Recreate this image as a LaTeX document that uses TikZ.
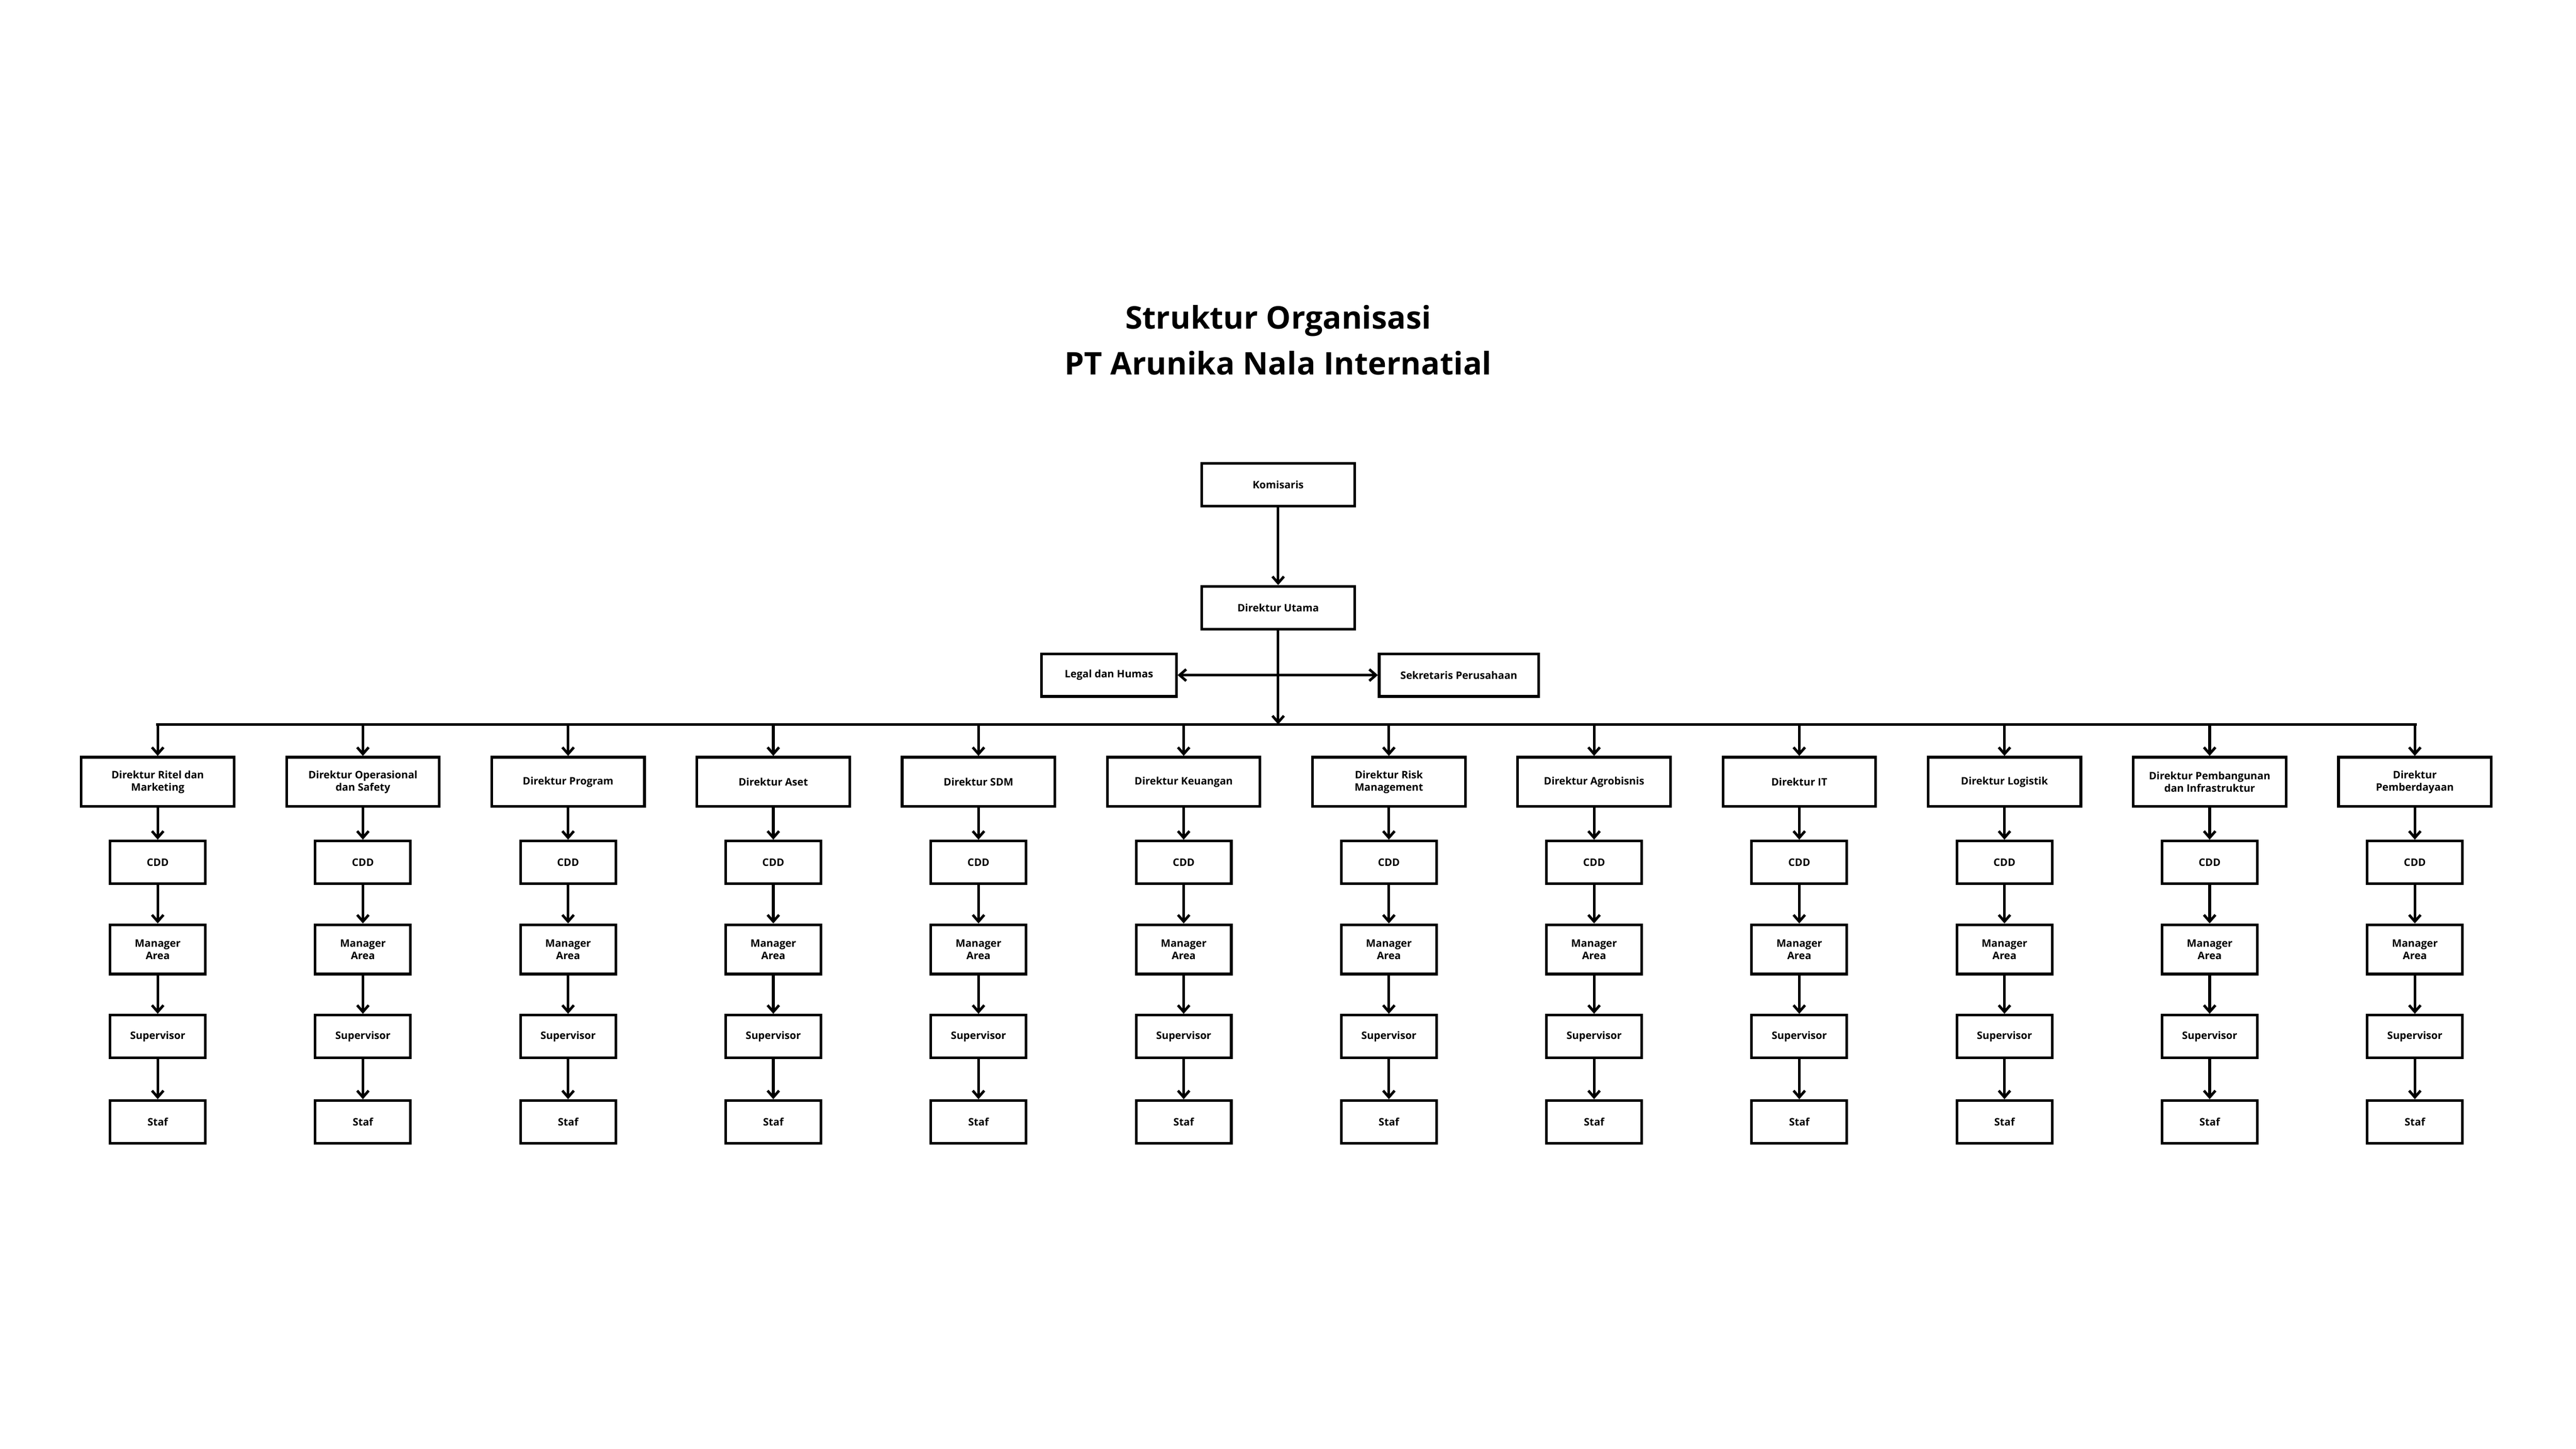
\documentclass[tikz,border=0pt]{standalone}
\usepackage{fontspec}
\setmainfont{Open Sans}
\usetikzlibrary{arrows.meta}

\tikzset{
  box/.style={draw, line width=1.6pt, fill=white, align=center, font=\bfseries\fontsize{6.3}{7.5}\selectfont,
              inner sep=0pt, minimum width=#1, minimum height=26pt},
  box/.default=58pt,
  link/.style={line width=1.6pt, -{Straight Barb[length=4pt,width=7pt]}}
}

\begin{document}
\begin{tikzpicture}[x=1pt,y=-1pt]

\useasboundingbox (0,0) rectangle (1568,882);

% Title
\node (title) at (778,207) [align=center, font=\bfseries\fontsize{19}{28}\selectfont] {Struktur Organisasi\\PT Arunika Nala Internatial};

% Top
\node (kom) at (778,295) [box=93pt] {Komisaris};
\node (du)  at (778,370) [box=93pt] {Direktur Utama};
\node (leg) at (675,411) [box=82pt] {Legal dan Humas};
\node (sek) at (888,411) [box=97pt] {Sekretaris Perusahaan};
\coordinate (bus) at (778,441);

\draw[link] (kom) -- (du);
\draw[link] (du) -- (bus);
\draw[line width=1.6pt, {Straight Barb[length=4pt,width=7pt]}-{Straight Barb[length=4pt,width=7pt]}] (leg) -- (sek);

% Bus
\draw[line width=1.6pt] (95,441) -- (1471,441);

% Directors and their rows
\foreach \name [count=\i] in {{Direktur Ritel dan\\Marketing},{Direktur Operasional\\dan Safety},{Direktur Program},
    {Direktur Aset},{Direktur SDM},{Direktur Keuangan},{Direktur Risk\\Management},{Direktur Agrobisnis},
    {Direktur IT},{Direktur Logistik},{Direktur Pembangunan\\dan Infrastruktur},{Direktur\\Pemberdayaan}} {

  \pgfmathsetmacro{\xx}{96+(\i-1)*124.9}
  \coordinate (b\i) at (\xx,441);

  \node (d\i) at (\xx,476) [box=93pt, minimum height=30pt] {\name};
  \node (c\i) at (\xx,525) [box] {CDD};
  \node (m\i) at (\xx,578) [box, minimum height=30pt] {Manager\\Area};
  \node (s\i) at (\xx,631) [box] {Supervisor};
  \node (f\i) at (\xx,683) [box] {Staf};

  \draw[link] (b\i) -- (d\i);
  \draw[link] (d\i) -- (c\i);
  \draw[link] (c\i) -- (m\i);
  \draw[link] (m\i) -- (s\i);
  \draw[link] (s\i) -- (f\i);
}

\end{tikzpicture}
\end{document}
